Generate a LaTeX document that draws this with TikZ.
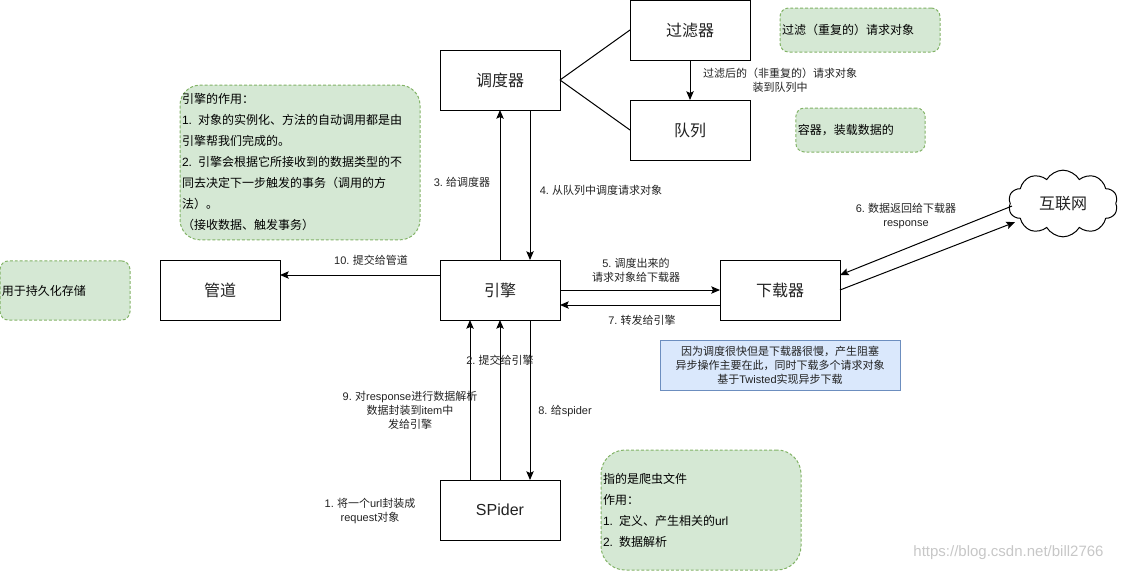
\documentclass[tikz,border=0pt]{standalone}
\usepackage{fontspec}
\setmainfont{Noto Sans CJK SC}
\newfontfamily\latf{Liberation Sans}
\newcommand{\lt}[1]{{\latf #1}}
\usetikzlibrary{arrows.meta,shapes.symbols}
\definecolor{notegreen}{HTML}{D5E8D4}
\definecolor{notegreenline}{HTML}{82B366}
\definecolor{noteblue}{HTML}{DAE8FC}
\definecolor{noteblueline}{HTML}{6C8EBF}
\definecolor{inkgrey}{HTML}{222222}
\tikzset{
  px/.style={x=.75pt,y=-.75pt},
  box/.style={draw=black,line width=.75pt,fill=white,minimum width=90pt,minimum height=45pt,inner sep=0pt,outer sep=0pt,font=\fontsize{12}{14}\selectfont,text=inkgrey},
  lbl/.style={inner sep=0pt,align=center,font=\fontsize{8.25}{10.5}\selectfont,text=inkgrey},
  conn/.style={line width=.75pt,draw=black},
  arr/.style={conn,-{Classic TikZ Rightarrow[length=5.5pt,width=5.5pt,fill=black]}},
  arrow/.style={conn,-{Stealth[length=6.5pt,width=5.5pt,inset=1.2pt]}},
  note/.style={draw=notegreenline,fill=notegreen,dashed,dash pattern=on 2.2pt off 1.5pt,line width=.75pt,inner sep=0pt,align=left,text=black},
}
\begin{document}
\begin{tikzpicture}[px]
\useasboundingbox (0,0) rectangle (1121,571);
% boxes
\node[box] (sched) at (500,80) {调度器};
\node[box] (filter) at (690,30) {过滤器};
\node[box] (queue) at (690,130) {队列};
\node[box] (engine) at (500,290) {引擎};
\node[box] (pipe) at (220,290) {管道};
\node[box] (down) at (780,290) {下载器};
\node[box] (spider) at (500,510) {\lt{SPider}};
\node[cloud,draw=black,fill=white,line width=.75pt,cloud puffs=10,cloud puff arc=120,aspect=1.7,minimum width=82pt,minimum height=50pt,inner sep=0pt,outer sep=0pt,font=\fontsize{12}{14}\selectfont,text=inkgrey] (net) at (1063,203.5) {互联网};
% notes
\node[note,rounded corners=6.5pt,minimum width=120pt,minimum height=33pt,text width=117pt,font=\fontsize{9}{15.75}\selectfont] (nfilter) at (860,30) {过滤（重复的）请求对象};
\node[note,rounded corners=6.5pt,minimum width=97pt,minimum height=33pt,text width=94pt,font=\fontsize{9}{15.75}\selectfont] (nqueue) at (860.5,130) {容器，装载数据的};
\node[note,rounded corners=15pt,minimum width=180pt,minimum height=116pt,text width=177pt,font=\fontsize{9}{15.75}\selectfont] (nengine) at (300,162.5) {引擎的作用：\\\lt{1.} 对象的实例化、方法的自动调用都是由\\引擎帮我们完成的。\\\lt{2.} 引擎会根据它所接收到的数据类型的不\\同去决定下一步触发的事务（调用的方\\法）。\\（接收数据、触发事务）};
\node[note,rounded corners=6.5pt,minimum width=97.5pt,minimum height=44.5pt,text width=94.5pt,font=\fontsize{9}{15.75}\selectfont] (npipe) at (65,290.5) {用于持久化存储};
\node[note,rounded corners=18pt,minimum width=150pt,minimum height=90pt,text width=147pt,font=\fontsize{9}{15.75}\selectfont] (nspider) at (701,510) {指的是爬虫文件\\作用：\\\lt{1.} 定义、产生相关的\lt{url}\\\lt{2.} 数据解析};
\node[draw=noteblueline,fill=noteblue,line width=.75pt,minimum width=180pt,minimum height=37.5pt,inner sep=0pt,align=center,text=inkgrey,font=\fontsize{8.25}{10.5}\selectfont] (nblue) at (780,365) {因为调度很快但是下载器很慢，产生阻塞\\异步操作主要在此，同时下载多个请求对象\\基于\lt{Twisted}实现异步下载};
% connectors
\draw[conn] (sched.east) -- (filter.west);
\draw[conn] (sched.east) -- (queue.west);
\draw[arrow] (filter.south) -- (queue.north);
\draw[arrow] ([xshift=0pt]engine.north) -- ([xshift=0pt]sched.south);
\draw[arrow] ([xshift=22.5pt]sched.south) -- ([xshift=22.5pt]engine.north);
\draw[arrow] ([yshift=11.25pt]engine.west) -- ([yshift=11.25pt]pipe.east);
\draw[arrow] (engine.east) -- (down.west);
\draw[arrow] ([yshift=-11.25pt]down.west) -- ([yshift=-11.25pt]engine.east);
\draw[arrow] ([xshift=-22.5pt]spider.north) -- ([xshift=-22.5pt]engine.south);
\draw[arrow] (spider.north) -- (engine.south);
\draw[arrow] ([xshift=22.5pt]engine.south) -- ([xshift=22.5pt]spider.north);
\draw[arrow] ([xshift=-38.25pt,yshift=-1.9pt]net.center) -- ([yshift=11.25pt]down.east);
\draw[arrow] (down.east) -- ([xshift=-36pt,yshift=-14pt]net.center);
% labels
\node[lbl] (l0) at (780,80.5) {过滤后的（非重复的）请求对象\\装到队列中};
\node[lbl] (l3) at (462,182) {\lt{3.} 给调度器};
\node[lbl] (l4) at (601,190) {\lt{4.} 从队列中调度请求对象};
\node[lbl] (l10) at (371,260) {\lt{10.} 提交给管道};
\node[lbl] (l5) at (636,270) {\lt{5.} 调度出来的\\请求对象给下载器};
\node[lbl] (l7) at (642,320) {\lt{7.} 转发给引擎};
\node[lbl] (l6) at (906,216) {\lt{6.} 数据返回给下载器\\\lt{response}};
\node[lbl] (l2) at (500,360) {\lt{2.} 提交给引擎};
\node[lbl] (l9) at (410,410.5) {\lt{9.} 对\lt{response}进行数据解析\\数据封装到\lt{item}中\\发给引擎};
\node[lbl] (l8) at (565,411) {\lt{8.} 给\lt{spider}};
\node[lbl] (l1) at (370,511) {\lt{1.} 将一个\lt{url}封装成\\\lt{request}对象};
\node[inner sep=0pt,text=black!22,font=\latf\fontsize{11.25}{13}\selectfont] (wm) at (1008.5,553) {https://blog.csdn.net/bill2766};
\end{tikzpicture}
\end{document}
